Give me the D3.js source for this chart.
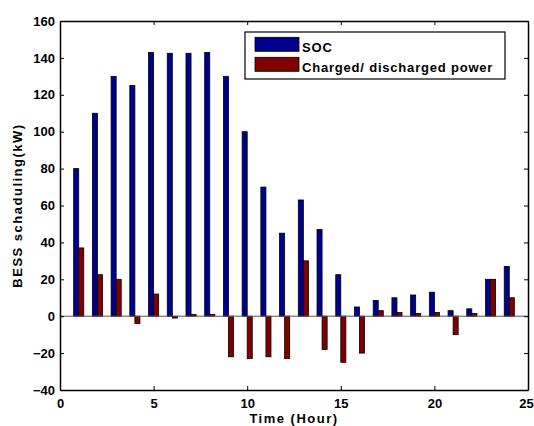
<!DOCTYPE html>
<meta charset="utf-8">
<head>
  <title>BESS scheduling</title>
</head>

<style>
body {
  margin: 0;
  background: #fff;
  font-family: Arial, "Liberation Sans", Helvetica, sans-serif;
}
svg text {
  font-weight: bold;
}
</style>

<body>
  <div id="chart"></div>

  <script src="https://cdnjs.cloudflare.com/ajax/libs/d3/7.8.5/d3.min.js"></script>

  <script>
var hours = d3.range(1, 25);
var soc = [80, 110, 130, 125, 143, 142.5, 142.5, 143, 130, 100, 70, 45,
           63, 47, 22.5, 5, 8.5, 10, 11.5, 13, 3, 4, 20, 27];
var power = [37, 22.5, 20, -4, 12, -1, 1, 1, -22, -23, -22, -23,
             30, -18, -25, -20, 3, 2, 1.5, 2, -10, 1.5, 20, 10];
var seriesNames = ['SOC', 'Charged/ discharged power'];
var seriesColors = ['#00008f', '#800000'];
var xTicks = [0, 5, 10, 15, 20, 25];
var yTicks = [-40, -20, 0, 20, 40, 60, 80, 100, 120, 140, 160];

var width = 534, height = 426;
var margin = {top: 21, right: 6, bottom: 36, left: 60};

var svg = d3.select('#chart').append('svg')
  .attr('width', width)
  .attr('height', height);

var x = d3.scaleLinear().domain([0, 25]).range([margin.left, width - margin.right]);
var y = d3.scaleLinear().domain([-40, 160]).range([height - margin.bottom, margin.top]);

var barW = 0.27;

// bars
var groups = [soc, power];
groups.forEach(function(vals, s) {
  svg.append('g').selectAll('rect')
    .data(hours)
    .enter().append('rect')
    .attr('x', function(h) { return s === 0 ? x(h - barW) : x(h); })
    .attr('width', x(barW) - x(0))
    .attr('y', function(h, i) { return y(Math.max(0, vals[i])); })
    .attr('height', function(h, i) { return Math.abs(y(vals[i]) - y(0)); })
    .attr('fill', seriesColors[s])
    .attr('stroke', '#000')
    .attr('stroke-width', 0.8);
});

// baseline
svg.append('line')
  .attr('x1', x(0)).attr('x2', x(25))
  .attr('y1', y(0)).attr('y2', y(0))
  .attr('stroke', '#555')
  .attr('stroke-width', 1);

// axes with inward ticks
var fmt = d3.format('d');
var xAxis = svg.append('g')
  .attr('transform', 'translate(0,' + y(-40) + ')')
  .call(d3.axisBottom(x).tickValues(xTicks).tickSizeInner(-4).tickSizeOuter(0).tickPadding(9).tickFormat(fmt));
svg.append('g')
  .attr('transform', 'translate(0,' + y(160) + ')')
  .call(d3.axisTop(x).tickValues(xTicks).tickSizeInner(-4).tickSizeOuter(0).tickFormat(''));
svg.append('g')
  .attr('transform', 'translate(' + x(0) + ',0)')
  .call(d3.axisLeft(y).tickValues(yTicks).tickSizeInner(-4).tickSizeOuter(0).tickPadding(5).tickFormat(fmt));
svg.append('g')
  .attr('transform', 'translate(' + x(25) + ',0)')
  .call(d3.axisRight(y).tickValues(yTicks).tickSizeInner(-4).tickSizeOuter(0).tickFormat(''));

svg.selectAll('.domain').attr('stroke', '#000').attr('stroke-width', 1.5);
svg.selectAll('.tick line').attr('stroke', '#000');
svg.selectAll('.tick text').attr('font-size', 13).attr('fill', '#000')
  .attr('font-family', 'Arial, "Liberation Sans", sans-serif');
// keep the last x label inside the page
xAxis.selectAll('.tick text').filter(function(d) { return d === 25; }).attr('dx', -2);

// axis labels
svg.append('text')
  .attr('x', (x(0) + x(25)) / 2)
  .attr('y', height - 3)
  .attr('text-anchor', 'middle')
  .attr('font-size', 13)
  .attr('letter-spacing', 1.5)
  .text('Time (Hour)');

svg.append('text')
  .attr('transform', 'translate(22,' + (y(-40) + y(160)) / 2 + ') rotate(-90)')
  .attr('text-anchor', 'middle')
  .attr('font-size', 13)
  .attr('letter-spacing', 1.5)
  .text('BESS schaduling(kW)');

// legend
var legend = svg.append('g').attr('transform', 'translate(245,32)');
legend.append('rect')
  .attr('width', 260).attr('height', 47)
  .attr('fill', '#fff').attr('stroke', '#000').attr('stroke-width', 1.2);
seriesNames.forEach(function(name, i) {
  legend.append('rect')
    .attr('x', 10).attr('y', 5.3 + i * 20)
    .attr('width', 44).attr('height', 14)
    .attr('fill', seriesColors[i])
    .attr('stroke', '#000').attr('stroke-width', 0.8);
  legend.append('text')
    .attr('x', 57).attr('y', 19.5 + i * 20)
    .attr('font-size', 13)
    .attr('letter-spacing', 0.8)
    .text(name);
});
  </script>
</body>
</html>
